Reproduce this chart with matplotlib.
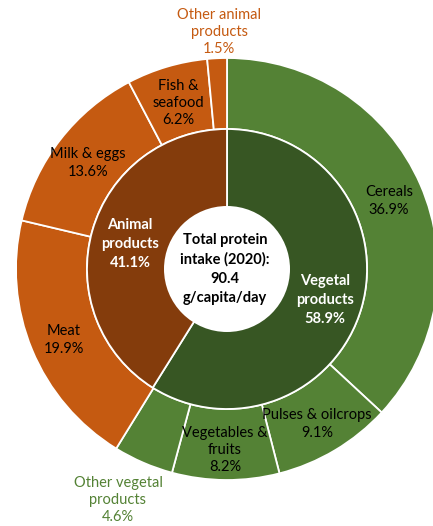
import matplotlib.pyplot as plt
from matplotlib.patches import Circle

# protein intake shares, percent of total (2020)
group_labels = ["Vegetal\nproducts", "Animal\nproducts"]
group_shares = [58.9, 41.1]

item_labels = [
    "Cereals",
    "Pulses & oilcrops",
    "Vegetables &\nfruits",
    "Other vegetal\nproducts",
    "Meat",
    "Milk & eggs",
    "Fish &\nseafood",
    "Other animal\nproducts",
]
item_shares = [36.9, 9.1, 8.2, 4.6, 19.9, 13.6, 6.2, 1.5]
total_text = "Total protein\nintake (2020):\n90.4\ng/capita/day"

GREEN_OUT = "#548235"
GREEN_IN = "#375623"
ORANGE_OUT = "#C55A11"
BROWN_IN = "#843C0C"

W, H = 433, 526
CX, CY = 227, H - 269
R_OUT, R_MID, R_HOLE = 211, 140, 63

plt.rcParams["font.family"] = ["Lato", "DejaVu Sans"]

fig = plt.figure(figsize=(W / 100, H / 100), dpi=100)
ax = fig.add_axes([0, 0, 1, 1])

wedge_kw = dict(edgecolor="white", linewidth=1.3)
outer_colors = [GREEN_OUT] * 4 + [ORANGE_OUT] * 4
ax.pie(item_shares, colors=outer_colors, radius=R_OUT, center=(CX, CY),
       startangle=90, counterclock=False, wedgeprops=dict(width=R_OUT - R_MID, **wedge_kw),
       frame=True)
ax.pie(group_shares, colors=[GREEN_IN, BROWN_IN], radius=R_MID, center=(CX, CY),
       startangle=90, counterclock=False, wedgeprops=wedge_kw, frame=True)
ax.add_patch(Circle((CX, CY), R_HOLE, facecolor="white", edgecolor="none", zorder=5))
ax.set_xlim(0, W)
ax.set_ylim(0, H)
ax.set_aspect("equal")
ax.axis("off")

fs = 10.5


def px(x, y):
    return x, H - y


# label anchors in pixel coordinates (x, y from top)
item_pos = [(389, 201), (317, 424), (225, 450), (118, 500), (64, 340),
            (88, 163), (178, 103), (219, 32)]
item_color = ["black", "black", "black", GREEN_OUT, "black", "black", "black", ORANGE_OUT]
for lab, val, (x, y), c in zip(item_labels, item_shares, item_pos, item_color):
    ax.text(*px(x, y), f"{lab}\n{val}%", ha="center", va="center", fontsize=fs,
            color=c, linespacing=1.3, zorder=6)

group_pos = [(325, 300), (130, 244)]
for lab, val, (x, y) in zip(group_labels, group_shares, group_pos):
    ax.text(*px(x, y), f"{lab}\n{val}%", ha="center", va="center", fontsize=fs,
            color="white", fontweight="bold", linespacing=1.45, zorder=6)

ax.text(*px(225, 269), total_text, ha="center", va="center", fontsize=fs,
        fontweight="bold", color="black", linespacing=1.45, zorder=6)

fig.savefig("out.png", dpi=100, facecolor="white")
